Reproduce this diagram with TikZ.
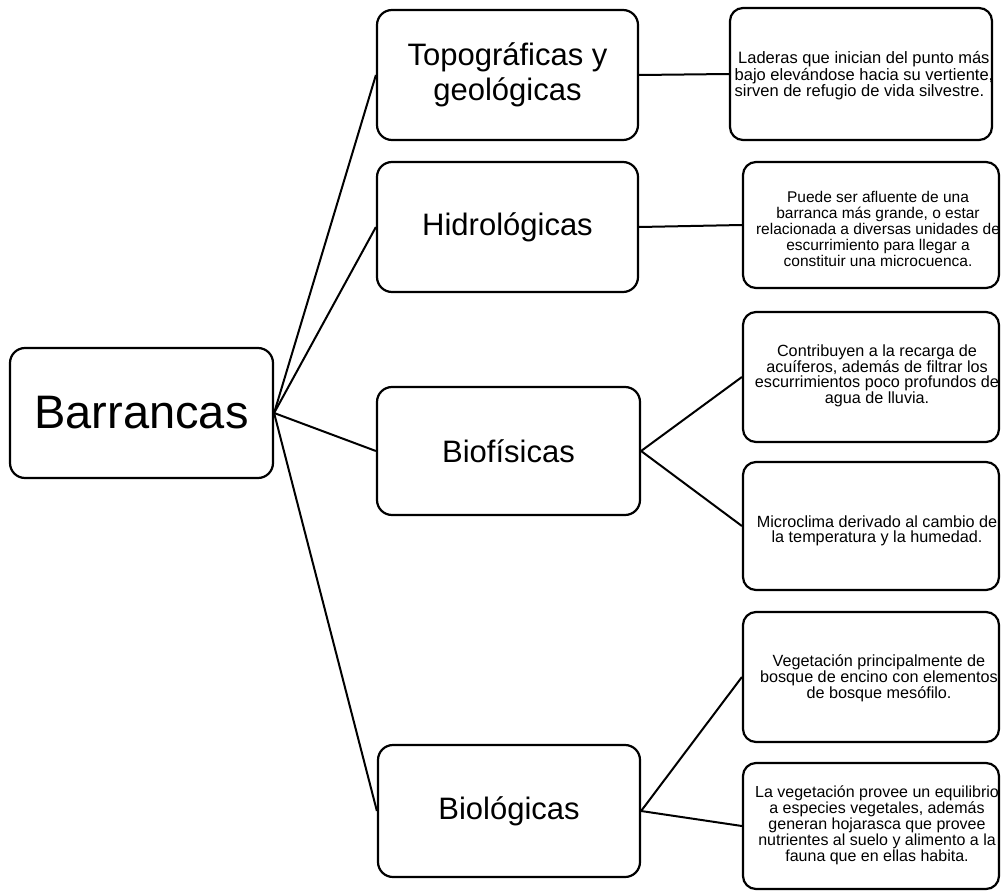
\documentclass[tikz,border=0pt]{standalone}
\usepackage{fontspec}
\setmainfont{Liberation Sans}
\begin{document}
\begin{tikzpicture}[x=1pt,y=-1pt,
  box/.style={draw, line width=2.2pt, rounded corners=15pt, align=center, inner sep=0pt},
  dbox/.style={draw, line width=2.2pt, rounded corners=13pt, inner sep=0pt},
  dtext/.style={align=center, inner sep=0pt},
  mainfont/.style={font=\fontsize{47}{52}\selectfont},
  midfont/.style={font=\fontsize{31}{35}\selectfont},
  link/.style={line width=2pt}]
\useasboundingbox (0,0) rectangle (1001,891);
% main
\node[box, mainfont, minimum width=263pt, minimum height=130pt] (bar) at (141.5,413) {Barrancas};
% categories
\node[box, midfont, minimum width=261pt, minimum height=130pt] (topo) at (507.5,75) {Topográficas y\\geológicas};
\node[box, midfont, minimum width=261pt, minimum height=130pt] (hidro) at (507.5,227) {Hidrológicas};
\node[box, midfont, minimum width=263pt, minimum height=128pt] (biof) at (508.5,451) {Biofísicas};
\node[box, midfont, minimum width=262pt, minimum height=132pt] (biol) at (509,811) {Biológicas};
% description boxes
\node[dbox, minimum width=262pt, minimum height=132pt] (d1) at (861,74) {};
\node[dbox, minimum width=256pt, minimum height=126pt] (d2) at (871,225) {};
\node[dbox, minimum width=256pt, minimum height=130pt] (d3) at (871,377) {};
\node[dbox, minimum width=256pt, minimum height=128pt] (d4) at (871,526) {};
\node[dbox, minimum width=256pt, minimum height=130pt] (d5) at (871,677) {};
\node[dbox, minimum width=256pt, minimum height=126pt] (d6) at (871,826) {};
% description texts
\node[dtext, align=left, anchor=west, font=\fontsize{16.5}{14.2}\selectfont] (t1) at (734.5,76) {\hspace*{3.5pt}Laderas que inician del punto más\\bajo elevándose hacia su vertiente,\\sirven de refugio de vida silvestre.};
\node[dtext, font=\fontsize{15.5}{16}\selectfont] (t2) at (878,229) {Puede ser afluente de una\\barranca más grande, o estar\\relacionada a diversas unidades de\\escurrimiento para llegar a\\constituir una microcuenca.};
\node[dtext, font=\fontsize{16.2}{15}\selectfont] (t3) at (877,376) {Contribuyen a la recarga de\\acuíferos, además de filtrar los\\escurrimientos poco profundos de\\agua de lluvia.};
\node[dtext, font=\fontsize{16.2}{15}\selectfont] (t4) at (877,531) {Microclima derivado al cambio de\\la temperatura y la humedad.};
\node[dtext, font=\fontsize{16.2}{15}\selectfont] (t5) at (879,678) {Vegetación principalmente de\\bosque de encino con elementos\\de bosque mesófilo.};
\node[dtext, font=\fontsize{16}{14.2}\selectfont] (t6) at (877,825) {La vegetación provee un equilibrio\\a especies vegetales, además\\generan hojarasca que provee\\nutrientes al suelo y alimento a la\\fauna que en ellas habita.};
% connectors
\draw[link] (bar.east) -- (topo.west);
\draw[link] (bar.east) -- (hidro.west);
\draw[link] (bar.east) -- (biof.west);
\draw[link] (bar.east) -- (biol.west);
\draw[link] (topo.east) -- (d1.west);
\draw[link] (hidro.east) -- (d2.west);
\draw[link] (biof.east) -- (d3.west);
\draw[link] (biof.east) -- (d4.west);
\draw[link] (biol.east) -- (d5.west);
\draw[link] (biol.east) -- (d6.west);
\end{tikzpicture}
\end{document}
